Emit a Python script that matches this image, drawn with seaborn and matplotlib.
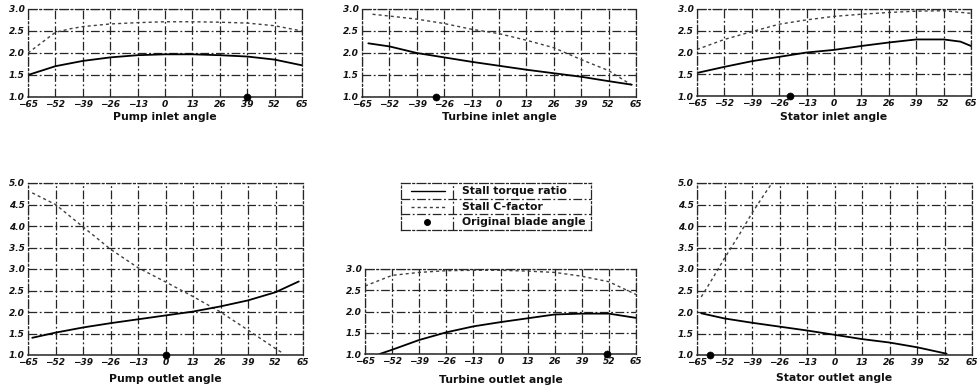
import matplotlib
matplotlib.use("Agg")
import matplotlib.pyplot as plt
import seaborn as sns
import pandas as pd

# ---------------- data ----------------
angle_ticks = [-65, -52, -39, -26, -13, 0, 13, 26, 39, 52, 65]
angle_tick_labels = ["\u221265", "\u221252", "\u221239", "\u221226", "\u221213", "0",
                     "13", "26", "39", "52", "65"]
y_ticks_small = [1.0, 1.5, 2.0, 2.5, 3.0]
y_ticks_large = [1.0, 1.5, 2.0, 2.5, 3.0, 3.5, 4.0, 4.5, 5.0]

# Pump inlet
pump_in_x = [-65, -52, -45, -39, -26, -13, 0, 13, 26, 39, 52, 65]
pump_in_cfactor = [2.0, 2.47, 2.55, 2.6, 2.66, 2.69, 2.71, 2.71, 2.7, 2.68, 2.62, 2.5]
pump_in_torque_x = [-65, -52, -39, -26, -13, 0, 13, 26, 39, 52, 65]
pump_in_torque = [1.5, 1.7, 1.82, 1.9, 1.95, 1.97, 1.97, 1.95, 1.92, 1.85, 1.72]
pump_in_orig = 39

# Turbine inlet
turb_in_cx = [-60, -52, -39, -26, -13, 0, 13, 26, 39, 52, 63]
turb_in_cfactor = [2.88, 2.84, 2.77, 2.67, 2.54, 2.44, 2.29, 2.12, 1.85, 1.6, 1.27]
turb_in_tx = [-62, -52, -39, -26, -13, 0, 13, 26, 39, 52, 63]
turb_in_torque = [2.22, 2.15, 2.0, 1.9, 1.8, 1.71, 1.62, 1.54, 1.46, 1.36, 1.28]
turb_in_orig = -30

# Stator inlet
stat_in_x = [-65, -52, -39, -26, -13, 0, 13, 26, 39, 52, 65]
stat_in_cfactor = [2.07, 2.3, 2.48, 2.65, 2.75, 2.83, 2.88, 2.92, 2.95, 2.96, 2.9]
stat_in_tx = [-65, -52, -39, -26, -13, 0, 13, 26, 39, 52, 60, 65]
stat_in_torque = [1.53, 1.67, 1.8, 1.9, 2.0, 2.06, 2.15, 2.23, 2.3, 2.3, 2.25, 2.15]
stat_in_orig = -21

# Pump outlet
pump_out_cx = [-63, -52, -39, -26, -13, 0, 13, 26, 39, 52, 55.5]
pump_out_cfactor = [4.77, 4.5, 3.98, 3.46, 3.03, 2.7, 2.36, 2.0, 1.58, 1.15, 1.04]
pump_out_tx = [-63, -52, -39, -26, -13, 0, 13, 26, 39, 52, 63]
pump_out_torque = [1.4, 1.52, 1.64, 1.74, 1.83, 1.92, 2.01, 2.13, 2.27, 2.46, 2.71]
pump_out_orig = 0

# Turbine outlet
turb_out_x = [-65, -52, -39, -26, -13, 0, 13, 26, 39, 52, 65]
turb_out_cfactor = [2.6, 2.85, 2.92, 2.96, 2.97, 2.97, 2.95, 2.92, 2.83, 2.7, 2.4]
turb_out_tx = [-58, -52, -39, -26, -13, 0, 13, 26, 39, 52, 65]
turb_out_torque = [1.0, 1.1, 1.33, 1.51, 1.65, 1.75, 1.84, 1.93, 1.95, 1.95, 1.85]
turb_out_orig = 51

# Stator outlet
stat_out_cx = [-63, -58, -52, -45, -39, -33, -29.5]
stat_out_cfactor = [2.35, 2.75, 3.25, 3.8, 4.3, 4.75, 5.0]
stat_out_tx = [-63, -52, -39, -26, -13, 0, 13, 26, 39, 53]
stat_out_torque = [1.97, 1.85, 1.75, 1.66, 1.57, 1.47, 1.37, 1.29, 1.18, 1.03]
stat_out_orig = -59

legend_labels = ["Stall torque ratio", "Stall C-factor", "Original blade angle"]

# ---------------- figure ----------------
sns.set_theme(style="white")
plt.rcParams["font.family"] = ["DejaVu Sans"]

W, H = 980, 390
fig = plt.figure(figsize=(W / 100, H / 100), dpi=100)

GRID_LS = (0, (7, 2, 1.5, 2))
DOT_LS = (0, (2.2, 2.2))


def px_axes(left, top, right, bottom):
    return fig.add_axes([left / W, 1 - bottom / H, (right - left) / W, (bottom - top) / H])


panels = [
    dict(rect=(28, 9, 302, 97), cx=pump_in_x, cy=pump_in_cfactor, tx=pump_in_torque_x,
         ty=pump_in_torque, orig=pump_in_orig, yt=y_ticks_small, label="Pump inlet angle", ly=117),
    dict(rect=(362, 9, 636, 97), cx=turb_in_cx, cy=turb_in_cfactor, tx=turb_in_tx,
         ty=turb_in_torque, orig=turb_in_orig, yt=y_ticks_small, label="Turbine inlet angle", ly=117),
    dict(rect=(697, 9, 971, 96), cx=stat_in_x, cy=stat_in_cfactor, tx=stat_in_tx,
         ty=stat_in_torque, orig=stat_in_orig, yt=y_ticks_small, label="Stator inlet angle", ly=117),
    dict(rect=(28, 183, 303, 355), cx=pump_out_cx, cy=pump_out_cfactor, tx=pump_out_tx,
         ty=pump_out_torque, orig=pump_out_orig, yt=y_ticks_large, label="Pump outlet angle", ly=379),
    dict(rect=(365, 269, 636, 354), cx=turb_out_x, cy=turb_out_cfactor, tx=turb_out_tx,
         ty=turb_out_torque, orig=turb_out_orig, yt=y_ticks_small, label="Turbine outlet angle", ly=380),
    dict(rect=(697, 183, 972, 355), cx=stat_out_cx, cy=stat_out_cfactor, tx=stat_out_tx,
         ty=stat_out_torque, orig=stat_out_orig, yt=y_ticks_large, label="Stator outlet angle", ly=378),
]

for p in panels:
    l, t, r, b = p["rect"]
    ax = px_axes(l, t, r, b)
    sns.lineplot(x=p["cx"], y=p["cy"], ax=ax, color="0.25", linewidth=1.0,
                 linestyle=DOT_LS, estimator=None, sort=False)
    sns.lineplot(x=p["tx"], y=p["ty"], ax=ax, color="black", linewidth=1.3,
                 estimator=None, sort=False)
    sns.scatterplot(x=[p["orig"]], y=[p["yt"][0]], ax=ax, color="black", s=26,
                    edgecolor="black", zorder=5, clip_on=False)
    ax.set_xlim(-65, 65)
    ax.set_ylim(p["yt"][0], p["yt"][-1])
    ax.set_xticks(angle_ticks)
    ax.set_xticklabels(angle_tick_labels)
    ax.set_yticks(p["yt"])
    ax.set_yticklabels([f"{v:.1f}" for v in p["yt"]])
    ax.tick_params(axis="both", length=0, labelsize=6.5, pad=2.5)
    for lab in ax.get_xticklabels() + ax.get_yticklabels():
        lab.set_fontweight("bold")
        lab.set_fontstyle("italic")
        lab.set_color("#111111")
    ax.grid(True, color="0.15", linestyle=GRID_LS, linewidth=0.9)
    for s in ax.spines.values():
        s.set_linestyle(GRID_LS)
        s.set_linewidth(0.9)
        s.set_color("0.15")
    ax.spines["bottom"].set_linestyle("-")
    ax.spines["bottom"].set_linewidth(1.1)
    ax.set_xlabel("")
    ax.set_ylabel("")
    fig.text((l + r) / 2 / W, 1 - p["ly"] / H, p["label"], ha="center", va="center",
             fontsize=7.8, fontweight="bold", color="#111111")

# ---------------- legend table ----------------
lx0, ly0, lx1, ly1 = 401, 183, 591, 230
lax = px_axes(lx0, ly0, lx1, ly1)
lax.set_xlim(0, 1)
lax.set_ylim(0, 3)
lax.set_xticks([])
lax.set_yticks([])
for s in lax.spines.values():
    s.set_linestyle(GRID_LS)
    s.set_linewidth(0.9)
    s.set_color("0.15")
div = (453 - lx0) / (lx1 - lx0)
lax.axvline(div, color="0.15", linestyle=GRID_LS, linewidth=0.9)
lax.axhline(1, color="0.15", linestyle=GRID_LS, linewidth=0.9)
lax.axhline(2, color="0.15", linestyle=GRID_LS, linewidth=0.9)
lax.plot([0.05, div - 0.04], [2.5, 2.5], color="black", linewidth=1.0)
lax.plot([0.05, div - 0.04], [1.5, 1.5], color="0.25", linewidth=1.0, linestyle=DOT_LS)
lax.scatter([div / 2], [0.5], color="black", s=16)
for yy, txt in zip([2.5, 1.5, 0.5], legend_labels):
    lax.text(div + 0.045, yy, txt, ha="left", va="center", fontsize=7.8,
             fontweight="bold", color="#111111")

fig.savefig("out.png", dpi=100)
